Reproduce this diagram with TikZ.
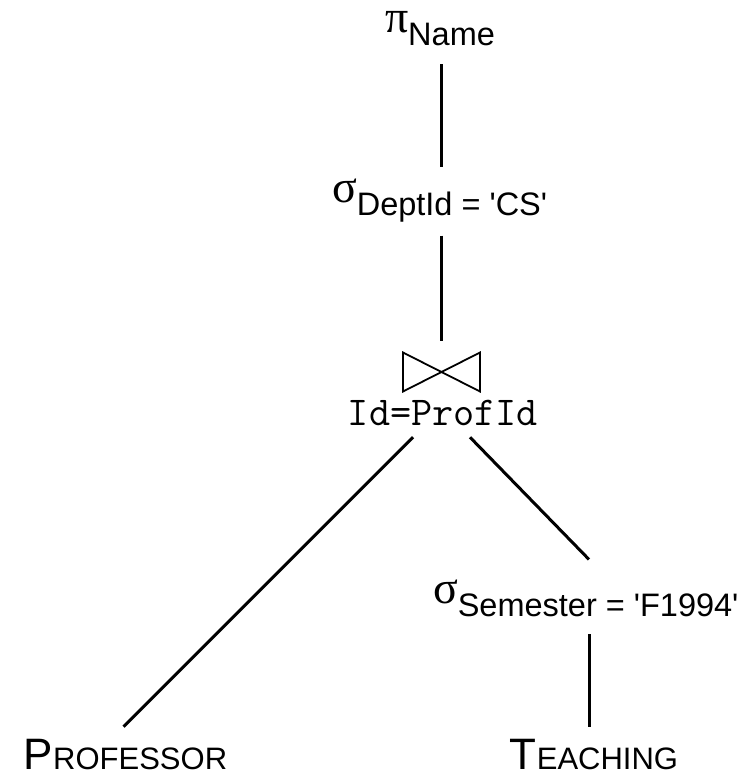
\documentclass[tikz,border=0pt]{standalone}
\usepackage{fontspec}
\setmainfont{Liberation Sans}
\newfontfamily\grk{Liberation Serif}
\begin{document}
\begin{tikzpicture}[x=1pt,y=-1pt,
  edge/.style={line width=3pt},
  lbl/.style={inner sep=0pt, outer sep=0pt},
  opname/.style={inner sep=0pt, outer sep=0pt, anchor=base west}]
\useasboundingbox (0,0) rectangle (749,775);
\newcommand{\grsym}[1]{{\grk\fontsize{46}{46}\selectfont #1}}
\newcommand{\subtx}[1]{\raisebox{-13pt}{\fontsize{32.5}{32.5}\selectfont #1}}
\newcommand{\bigsc}[2]{{\fontsize{44}{44}\selectfont #1}{\fontsize{31}{31}\selectfont #2}}
\newcommand{\sq}{\textquotesingle}
% columns
\coordinate (c1) at (441.5,0);
\coordinate (c2) at (589,0);
% nodes
\node[opname] (proj) at (385,33) {\grsym{π}\subtx{Name}};
\node[opname] (sel1) at (332,203) {\grsym{σ}\subtx{DeptId = \sq CS\sq}};
\node[lbl, minimum width=77pt, minimum height=39pt] (join) at (441.5,372) {};
\node[lbl, anchor=base] (cond) at (443,425) {\ttfamily\fontsize{41}{41}\selectfont Id=ProfId};
\node[opname] (sel2) at (433,603) {\grsym{σ}\subtx{Semester = \sq F1994\sq}};
\node[lbl, anchor=base] (prof) at (125.5,769) {\bigsc{P}{ROFESSOR}};
\node[lbl, anchor=base] (teach) at (594,769) {\bigsc{T}{EACHING}};
% bowtie
\draw[line width=1.8pt, line join=miter] (join.north west) -- (join.south west) -- (join.north east) -- (join.south east) -- cycle;
% edges
\draw[edge] ([yshift=-18pt]proj.south -| c1) -- ([yshift=12pt]sel1.north -| c1);
\draw[edge] ([yshift=-13pt]sel1.south -| c1) -- ([yshift=12pt]join.north -| c1);
\draw[edge] ([xshift=-30pt,yshift=-12pt]cond.south) -- ([xshift=-2pt,yshift=12pt]prof.north);
\draw[edge] ([xshift=27pt,yshift=-12pt]cond.south) -- ([yshift=20pt]sel2.north -| c2);
\draw[edge] ([yshift=-18pt]sel2.south -| c2) -- ([yshift=12pt]teach.north -| c2);
\end{tikzpicture}
\end{document}
